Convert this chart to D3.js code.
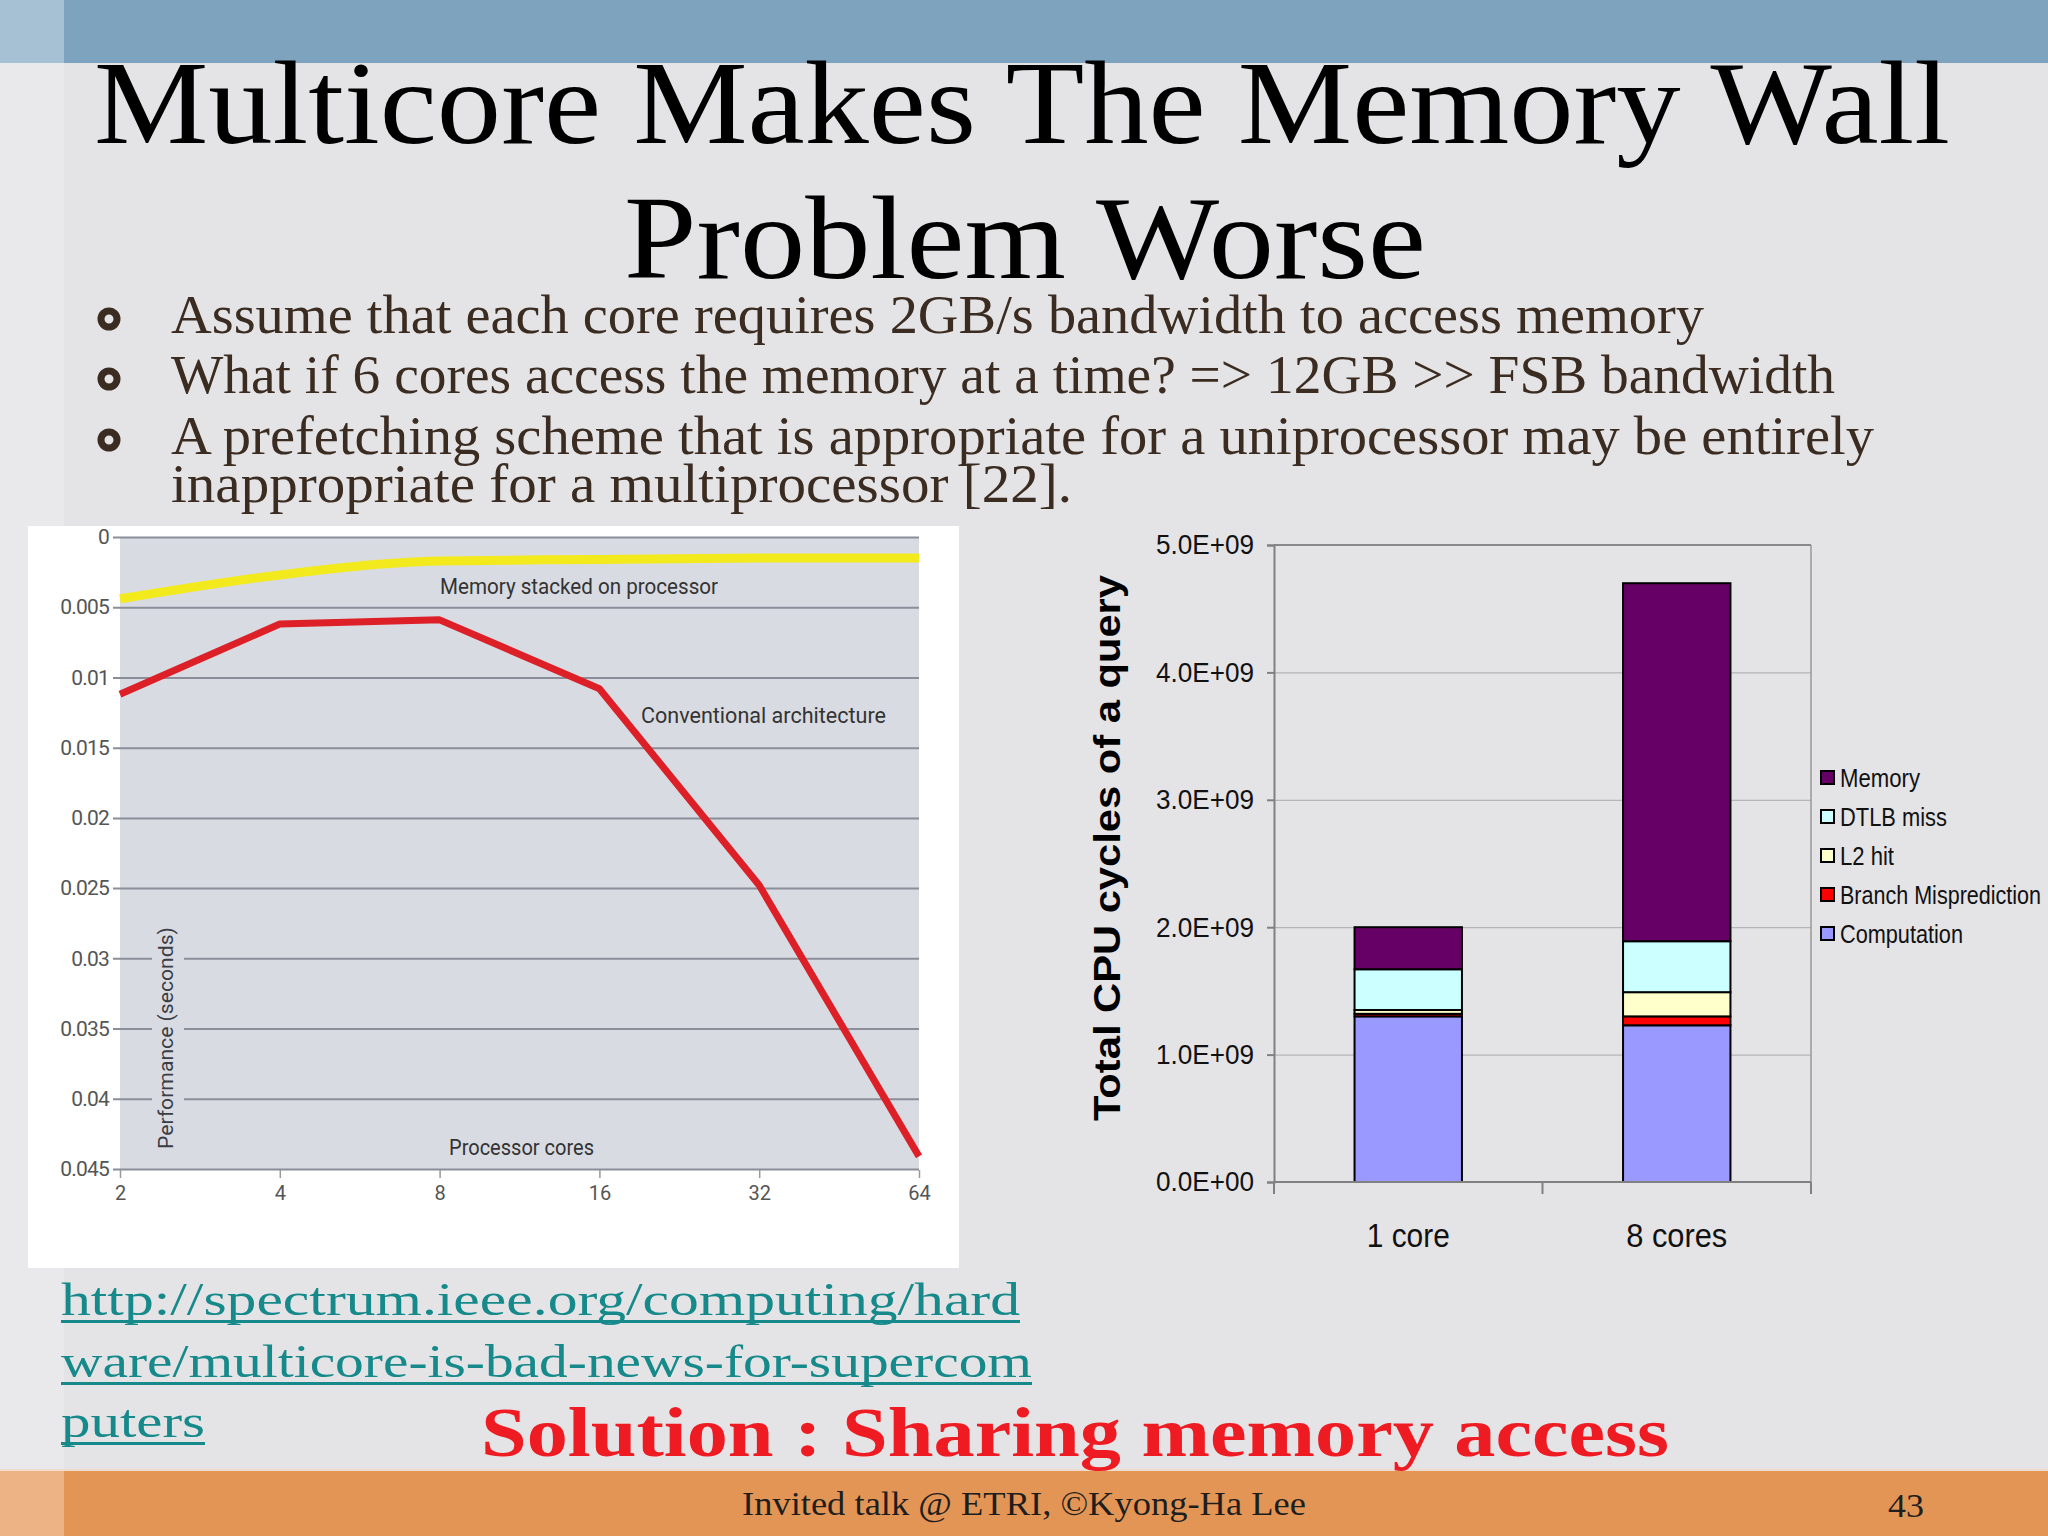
<!DOCTYPE html>
<html><head><meta charset="utf-8">
<script src="https://cdn.jsdelivr.net/npm/d3@7"></script>
<style>html,body{margin:0;padding:0;background:#e4e3e6;}svg{display:block;}</style>
</head><body>
<svg id="slide" width="2048" height="1536"></svg>
<script>
// ---------- data ----------
const coreCounts = [2, 4, 8, 16, 32, 64];
const stackedMemory = [0.0044, 0.0027, 0.0017, 0.0016, 0.0015, 0.0015];
const conventional = [0.0112, 0.0062, 0.0059, 0.0108, 0.0248, 0.0441];
const perfTicks = [0, 0.005, 0.01, 0.015, 0.02, 0.025, 0.03, 0.035, 0.04, 0.045];
const perfTickLabels = ["0", "0.005", "0.01", "0.015", "0.02", "0.025", "0.03", "0.035", "0.04", "0.045"];

const barCategories = ["1 core", "8 cores"];
const computation = [1.30e9, 1.23e9];
const branchMisprediction = [0.02e9, 0.07e9];
const l2Hit = [0.03e9, 0.19e9];
const dtlbMiss = [0.32e9, 0.40e9];
const memory = [0.33e9, 2.81e9];
const seriesNames = ["Computation", "Branch Misprediction", "L2 hit", "DTLB miss", "Memory"];
const legendOrder = ["Memory", "DTLB miss", "L2 hit", "Branch Misprediction", "Computation"];
const cycleTicks = [0, 1e9, 2e9, 3e9, 4e9, 5e9];

const titleLines = ["Multicore Makes The Memory Wall", "Problem Worse"];
const bulletLines = [
  "Assume that each core requires 2GB/s bandwidth to access memory",
  "What if 6 cores access the memory at a time? => 12GB >> FSB bandwidth",
  "A prefetching scheme that is appropriate for a uniprocessor may be entirely",
  "inappropriate for a multiprocessor [22]."
];
const linkLines = ["http://spectrum.ieee.org/computing/hard", "ware/multicore-is-bad-news-for-supercom", "puters"];

// ---------- helpers ----------
const svg = d3.select("#slide");
function txt(g, s, x, y, o) {
  const t = g.append("text").attr("x", x).attr("y", y).text(s)
    .attr("font-family", o.family || "Liberation Serif")
    .attr("font-size", o.size)
    .attr("fill", o.fill || "#000");
  if (o.weight) t.attr("font-weight", o.weight);
  if (o.anchor) t.attr("text-anchor", o.anchor);
  if (o.len) t.attr("textLength", o.len).attr("lengthAdjust", "spacingAndGlyphs");
  if (o.baseline) t.attr("dominant-baseline", o.baseline);
  return t;
}

// ---------- background ----------
svg.append("rect").attr("width", 2048).attr("height", 1536).attr("fill", "#e4e3e6");
svg.append("rect").attr("width", 64).attr("height", 1536).attr("fill", "#e9e8eb");
svg.append("rect").attr("width", 2048).attr("height", 63).attr("fill", "#7da3bf");
svg.append("rect").attr("width", 64).attr("height", 63).attr("fill", "#a6c1d4");
svg.append("rect").attr("y", 1471).attr("width", 2048).attr("height", 65).attr("fill", "#e39556");
svg.append("rect").attr("y", 1471).attr("width", 64).attr("height", 65).attr("fill", "#edb385");
svg.append("rect").attr("y", 1469).attr("width", 2048).attr("height", 2).attr("fill", "#eedccd");

// ---------- title ----------
txt(svg, titleLines[0], 94, 143, {size: 118, len: 1856});
txt(svg, titleLines[1], 624, 278, {size: 118, len: 802});

// ---------- bullets ----------
const bulletY = [333, 393, 454, 502];
const bulletLen = [1533, 1664, 1703, 901];
const brown = "#3b2c21";
bulletLines.forEach((s, i) => {
  txt(svg, s, 171, bulletY[i], {size: 54, fill: brown, len: bulletLen[i]});
  if (i < 3) svg.append("circle").attr("cx", 109).attr("cy", bulletY[i] - 14).attr("r", 8)
    .attr("fill", "none").attr("stroke", brown).attr("stroke-width", 7);
});

// ---------- left chart ----------
const L = svg.append("g");
L.append("rect").attr("x", 28).attr("y", 526).attr("width", 931).attr("height", 742).attr("fill", "#ffffff");
const lx = d3.scaleLog().base(2).domain([2, 64]).range([120, 919]);
const ly = d3.scaleLinear().domain([0, 0.045]).range([537, 1169]);
L.append("rect").attr("x", 120).attr("y", 537).attr("width", 799).attr("height", 632).attr("fill", "#d9dbe3");

const lyAxis = L.append("g").attr("transform", "translate(919,0)")
  .call(d3.axisLeft(ly).tickValues(perfTicks).tickSize(806).tickPadding(4)
    .tickFormat((d, i) => perfTickLabels[i]));
lyAxis.select(".domain").remove();
lyAxis.selectAll("line").attr("stroke", "#8b8e98").attr("stroke-width", 2);
lyAxis.selectAll("text").attr("font-family", "Roboto").attr("font-size", 21).attr("fill", "#555")
  .attr("letter-spacing", -0.8);

const lxAxis = L.append("g").attr("transform", "translate(0,1170)")
  .call(d3.axisBottom(lx).tickValues(coreCounts).tickSize(8).tickPadding(8).tickFormat(d3.format("d")));
lxAxis.select(".domain").remove();
lxAxis.selectAll("line").attr("stroke", "#999").attr("stroke-width", 1.5);
lxAxis.selectAll("text").attr("font-family", "Roboto").attr("font-size", 20).attr("fill", "#555");

// y-axis label with plot-coloured background
L.append("rect").attr("x", 152).attr("y", 922).attr("width", 32).attr("height", 234).attr("fill", "#d9dbe3");
txt(L, "Performance (seconds)", 0, 0, {family: "Roboto", size: 21, fill: "#3a3d44", anchor: "middle", len: 222, baseline: "central"})
  .attr("transform", "translate(166,1038) rotate(-90)");

const lineGen = (vals, curve) => d3.line().x((d, i) => lx(coreCounts[i])).y(d => ly(d)).curve(curve)(vals);
L.append("path").attr("d", lineGen(stackedMemory, d3.curveMonotoneX))
  .attr("fill", "none").attr("stroke", "#f3ea1e").attr("stroke-width", 9).attr("stroke-linecap", "butt");
L.append("path").attr("d", lineGen(conventional, d3.curveLinear))
  .attr("fill", "none").attr("stroke", "#dd1f27").attr("stroke-width", 7).attr("stroke-linejoin", "round");

txt(L, "Memory stacked on processor", 440, 594, {family: "Roboto", size: 22, fill: "#333", len: 278});
txt(L, "Conventional architecture", 641, 723, {family: "Roboto", size: 22, fill: "#333", len: 245});
txt(L, "Processor cores", 449, 1155, {family: "Roboto", size: 22, fill: "#333", len: 145});

// ---------- right chart ----------
const R = svg.append("g");
const ry = d3.scaleLinear().domain([0, 5e9]).range([1182, 545]);
const rx = d3.scaleBand().domain(barCategories).range([1274, 1811]).paddingInner(0.6).paddingOuter(0.3);
const expFmt = d => {
  const [m, e] = d.toExponential(1).split("e");
  const n = Math.abs(+e);
  return m + "E" + (+e < 0 ? "-" : "+") + (n < 10 ? "0" : "") + n;
};

// gridlines
const grid = R.append("g").attr("transform", "translate(1274,0)")
  .call(d3.axisLeft(ry).tickValues(cycleTicks.slice(1, -1)).tickSize(-537).tickFormat(""));
grid.select(".domain").remove();
grid.selectAll("line").attr("stroke", "#a9a9ab").attr("stroke-width", 1);

// frame
R.append("line").attr("x1", 1274).attr("x2", 1811).attr("y1", ry(5e9)).attr("y2", ry(5e9)).attr("stroke", "#888").attr("stroke-width", 2);
R.append("line").attr("x1", 1811).attr("x2", 1811).attr("y1", ry(5e9)).attr("y2", ry(0)).attr("stroke", "#999").attr("stroke-width", 1.5);

// stacked bars
const tableRows = barCategories.map((c, i) => ({
  category: c,
  "Computation": computation[i],
  "Branch Misprediction": branchMisprediction[i],
  "L2 hit": l2Hit[i],
  "DTLB miss": dtlbMiss[i],
  "Memory": memory[i]
}));
const colors = d3.scaleOrdinal().domain(seriesNames)
  .range(["#9999ff", "#ff0000", "#ffffcc", "#ccffff", "#660066"]);
const stacked = d3.stack().keys(seriesNames)(tableRows);
R.selectAll("g.series").data(stacked).join("g").attr("class", "series")
  .attr("fill", d => colors(d.key))
  .selectAll("rect").data(d => d).join("rect")
  .attr("x", d => rx(d.data.category))
  .attr("width", rx.bandwidth())
  .attr("y", d => ry(d[1]))
  .attr("height", d => ry(d[0]) - ry(d[1]))
  .attr("stroke", "#000").attr("stroke-width", 2);

// y axis
const ryAxis = R.append("g").attr("transform", "translate(1274,0)")
  .call(d3.axisLeft(ry).tickValues(cycleTicks).tickSize(7).tickPadding(13).tickFormat(expFmt));
ryAxis.select(".domain").attr("stroke", "#808080").attr("stroke-width", 2);
ryAxis.selectAll("line").attr("stroke", "#808080").attr("stroke-width", 2);
ryAxis.selectAll("text").attr("font-family", "Liberation Sans").attr("font-size", 28).attr("fill", "#111")
  .attr("textLength", 98).attr("lengthAdjust", "spacingAndGlyphs");

// x axis
R.append("line").attr("x1", 1274).attr("x2", 1811).attr("y1", ry(0)).attr("y2", ry(0)).attr("stroke", "#808080").attr("stroke-width", 2);
const bounds = [rx.range()[0], (rx(barCategories[0]) + rx.bandwidth() + rx(barCategories[1])) / 2, rx.range()[1]];
R.selectAll("line.cattick").data(bounds).join("line").attr("class", "cattick")
  .attr("x1", d => d).attr("x2", d => d).attr("y1", ry(0)).attr("y2", ry(0) + 12)
  .attr("stroke", "#808080").attr("stroke-width", 2);
const catLen = [83, 101];
barCategories.forEach((c, i) => {
  txt(R, c, rx(c) + rx.bandwidth() / 2, 1247, {family: "Liberation Sans", size: 34, fill: "#111", anchor: "middle", len: catLen[i]});
});

// axis title
txt(R, "Total CPU cycles of a query", 0, 0, {family: "Liberation Sans", size: 36, weight: "bold", fill: "#000", anchor: "middle", len: 546, baseline: "central"})
  .attr("transform", "translate(1107,848) rotate(-90)");

// legend
const legLen = {"Memory": 80, "DTLB miss": 107, "L2 hit": 54, "Branch Misprediction": 201, "Computation": 123};
legendOrder.forEach((name, i) => {
  const cy = 778 + i * 39;
  R.append("rect").attr("x", 1821).attr("y", cy - 7).attr("width", 13).attr("height", 13)
    .attr("fill", colors(name)).attr("stroke", "#000").attr("stroke-width", 2);
  txt(R, name, 1840, cy + 9, {family: "Liberation Sans", size: 25, fill: "#111", len: legLen[name]});
});

// ---------- link ----------
const teal = "#16898a";
const linkY = [1315, 1377, 1437];
const linkLen = [959, 971, 144];
linkLines.forEach((s, i) => {
  txt(svg, s, 61, linkY[i], {size: 46, fill: teal, len: linkLen[i]});
  svg.append("rect").attr("x", 61).attr("y", linkY[i] + 5).attr("width", linkLen[i]).attr("height", 3).attr("fill", teal);
});

// ---------- solution ----------
txt(svg, "Solution : Sharing memory access", 481, 1456, {size: 70, weight: "bold", fill: "#ef1b22", len: 1188});

// ---------- footer ----------
txt(svg, "Invited talk @ ETRI, \u00A9Kyong-Ha Lee", 742, 1515, {size: 33, fill: "#1e1e1e", len: 564});
txt(svg, "43", 1888, 1517, {size: 33, fill: "#1e1e1e", len: 36});
</script>
</body></html>
